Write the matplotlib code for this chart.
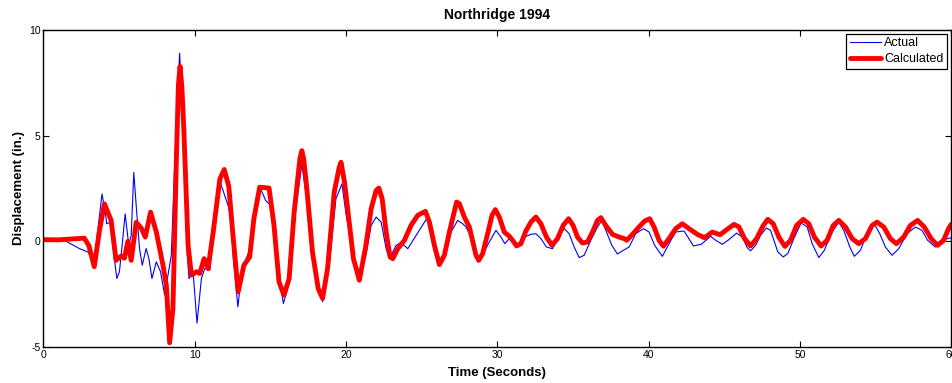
import matplotlib
matplotlib.use("Agg")
import matplotlib.pyplot as plt

plt.rcParams['font.family'] = ['Liberation Sans', 'DejaVu Sans']
plt.rcParams['axes.unicode_minus'] = False

actual_t = [0, 0.8, 1.5, 2.37, 2.92, 3.36, 3.63, 3.87, 4.09, 4.18, 4.42, 4.58, 4.85, 5.02, 5.2, 5.4,
            5.64, 5.8, 5.97, 6.13, 6.35, 6.53, 6.79, 6.97, 7.17, 7.46, 7.74, 8.01, 8.23, 8.45, 8.67,
            9.0, 9.27, 9.49, 9.62, 9.89, 10.15, 10.44, 10.66, 11.0, 11.28, 11.72, 12.2, 12.4, 12.55,
            12.85, 13.14, 13.58, 13.91, 14.36, 14.69, 15.02, 15.57, 15.86, 16.24, 16.68, 17.08, 17.45,
            18.0, 18.45, 18.89, 19.33, 19.73, 20.01, 20.45, 20.66, 20.99, 21.3, 21.66, 21.99, 22.32,
            22.65, 22.87, 23.31, 23.64, 24.08, 24.63, 25.33, 25.62, 25.95, 26.17, 26.57, 26.94, 27.38,
            27.71, 27.93, 28.26, 28.59, 28.81, 29.07, 29.47, 29.91, 30.24, 30.5, 30.79, 31.12, 31.41,
            31.78, 32.22, 32.55, 32.88, 33.25, 33.65, 34.09, 34.42, 34.75, 35.08, 35.41, 35.74, 36.18,
            36.62, 36.91, 37.17, 37.57, 37.94, 38.27, 38.71, 39.15, 39.66, 40.03, 40.4, 40.91, 41.35,
            41.79, 42.34, 42.6, 42.96, 43.48, 44.1, 44.43, 44.87, 45.31, 45.82, 46.19, 46.52, 46.74,
            47.07, 47.4, 47.78, 48.06, 48.28, 48.54, 48.9, 49.2, 49.6, 50.08, 50.48, 50.81, 51.25,
            51.62, 52.06, 52.57, 52.9, 53.3, 53.6, 54.0, 54.44, 54.88, 55.28, 55.65, 56.09, 56.53,
            57.08, 57.63, 58.07, 58.44, 58.95, 59.39, 59.72, 60.0]
actual_d = [0.08, 0.1, 0.0, -0.34, -0.5, -0.9, 0.75, 2.24, 1.38, 0.83, 0.91, -0.19, -1.76, -1.44, -0.19, 1.3,
            -0.19, 0.28, 3.26, 1.69, -0.34, -1.13, -0.34, -0.82, -1.76, -0.97, -1.44, -2.54, -1.6, -0.66, 3.57,
            8.9, 5.3, -0.5, -1.76, -1.44, -3.87, -1.76, -1.29, -1.36, 0.75, 2.72, 1.7, 1.2, -0.8,
            -3.1, -1.29, -0.5, 0.75, 2.48, 1.93, 1.7, -1.76, -2.94, -1.92, 1.54, 3.66, 1.7,
            -1.45, -2.86, -1.13, 2.01, 2.72, 1.23, -0.5, -1.29, -1.37, -0.7, 0.75, 1.15, 0.91,
            -0.35, -0.82, -0.19, -0.06, -0.35, 0.28, 1.07, 0.76, -0.35, -1.16, -0.66, 0.44, 0.99,
            0.83, 0.68, 0.2, -0.66, -0.9, -0.58, -0.03, 0.52, 0.2, -0.11, 0.13, -0.08, -0.11,
            0.2, 0.33, 0.36, 0.13, -0.27, -0.35, 0.28, 0.6, 0.36, -0.27, -0.77, -0.66, 0.05,
            0.68, 0.99, 0.52, -0.19, -0.6, -0.45, -0.27, 0.36, 0.6, 0.44, -0.19, -0.71, -0.11,
            0.44, 0.49, 0.2, -0.22, -0.14, 0.24, 0.05, -0.14, 0.08, 0.39, 0.2, -0.3, -0.45,
            -0.19, 0.28, 0.63, 0.52, 0.05, -0.5, -0.74, -0.58, 0.13, 0.87, 0.68, -0.11, -0.77,
            -0.42, 0.36, 0.91, 0.52, -0.27, -0.71, -0.42, 0.36, 0.87, 0.36, -0.27, -0.66, -0.35,
            0.36, 0.68, 0.52, 0.05, -0.27, -0.11, 0.13, 0.16]

# Calculated displacement
calc_t = [0, 1, 2, 2.7, 3.0, 3.36, 3.7, 4.03, 4.47, 4.8, 5.13, 5.35, 5.58, 5.8, 6.13, 6.46, 6.73, 7.08,
          7.46, 7.9, 8.12, 8.34, 8.56, 8.78, 8.92, 9.03, 9.15, 9.27, 9.56, 9.78, 10.11, 10.33, 10.62, 10.88,
          11.22, 11.66, 11.95, 12.25, 12.5, 12.87, 13.25, 13.63, 13.91, 14.29, 14.91, 15.24, 15.57, 15.9,
          16.24, 16.57, 16.95, 17.08, 17.2, 17.39, 17.78, 18.16, 18.45, 18.78, 19.22, 19.55, 19.67, 19.9,
          20.23, 20.49, 20.88, 21.3, 21.66, 21.99, 22.17, 22.39, 22.65, 22.91, 23.09, 23.42, 23.86, 24.3,
          24.74, 25.25, 25.51, 25.84, 26.17, 26.5, 26.83, 27.31, 27.49, 27.82, 28.15, 28.41, 28.59, 28.77,
          29.03, 29.36, 29.65, 29.87, 30.13, 30.46, 30.79, 31.01, 31.27, 31.56, 31.89, 32.22, 32.55, 32.88,
          33.25, 33.61, 33.98, 34.35, 34.71, 35.01, 35.3, 35.63, 35.96, 36.29, 36.62, 36.84, 37.17, 37.61,
          38.05, 38.38, 38.56, 38.93, 39.37, 39.74, 40.07, 40.36, 40.69, 40.98, 41.35, 41.79, 42.23, 42.67,
          43.22, 43.7, 44.21, 44.72, 45.16, 45.64, 45.97, 46.34, 46.74, 47.14, 47.58, 47.88, 48.24, 48.61,
          49.01, 49.38, 49.78, 50.22, 50.59, 50.96, 51.4, 51.8, 52.2, 52.57, 53.01, 53.45, 53.89, 54.33,
          54.77, 55.1, 55.54, 55.98, 56.38, 56.86, 57.3, 57.78, 58.22, 58.67, 59.1, 59.5, 59.83, 60.0]
calc_d = [0.08, 0.07, 0.12, 0.15, -0.2, -1.2, 0.5, 1.77, 1.0, -0.9, -0.7, -0.8, 0.0, -0.9, 0.9, 0.63, 0.2, 1.38,
          0.44, -1.13, -2.07, -4.8, -3.17, 3.73, 7.4, 8.28, 7.3, 5.45, -0.19, -1.6, -1.44, -1.52, -0.82, -1.29,
          0.44, 2.95, 3.4, 2.6, 0.5, -2.39, -1.13, -0.74, 1.07, 2.56, 2.52, 0.75, -1.92, -2.55,
          -1.76, 1.38, 3.9, 4.29, 3.9, 2.64, -0.5, -2.23, -2.7, -1.29, 2.33, 3.5, 3.74, 2.8,
          0.75, -0.82, -1.84, -0.25, 1.54, 2.41, 2.52, 2.01, 0.44, -0.74, -0.82, -0.35, 0.05, 0.76,
          1.23, 1.42, 0.91, -0.19, -1.1, -0.66, 0.44, 1.86, 1.78, 1.15, 0.68, -0.11, -0.66, -0.9,
          -0.58, 0.36, 1.23, 1.5, 1.15, 0.44, 0.24, 0.05, -0.22, -0.11, 0.49, 0.91, 1.15, 0.83,
          0.2, -0.19, 0.13, 0.75, 1.07, 0.75, 0.2, -0.08, -0.03, 0.44, 0.99, 1.12, 0.75, 0.33,
          0.2, 0.13, 0.05, 0.33, 0.68, 0.96, 1.07, 0.68, 0.05, -0.23, 0.13, 0.6, 0.83, 0.6,
          0.33, 0.17, 0.44, 0.31, 0.55, 0.8, 0.68, 0.13, -0.22, 0.13, 0.75, 1.04, 0.83, 0.2,
          -0.24, 0.05, 0.75, 1.04, 0.83, 0.2, -0.22, 0.05, 0.75, 0.99, 0.68, 0.13, -0.11, 0.13,
          0.75, 0.91, 0.68, 0.13, -0.11, 0.2, 0.75, 0.99, 0.68, 0.13, -0.19, 0.05, 0.6, 0.8]

x_ticks = [0, 10, 20, 30, 40, 50, 60]
y_ticks = [-5, 0, 5, 10]

fig = plt.figure(figsize=(9.53, 3.83), dpi=100)
ax = fig.add_axes([0.0456, 0.094, 0.9525, 0.8277])

ax.plot(actual_t, actual_d, color='#0000ff', linewidth=0.8, label='Actual')
ax.plot(calc_t, calc_d, color='#ff0000', linewidth=3.5, label='Calculated',
        solid_joinstyle='round', solid_capstyle='round')

ax.set_xlim(0, 60)
ax.set_ylim(-5, 10)
ax.set_xticks(x_ticks)
ax.set_yticks(y_ticks)
ax.tick_params(direction='in', top=True, right=True, length=4, width=0.8, labelsize=7.5, pad=2)
for s in ax.spines.values():
    s.set_linewidth(1.0)

ax.set_title("Northridge 1994", fontsize=10, fontweight='bold', pad=8)
ax.set_xlabel("Time (Seconds)", fontsize=9.5, fontweight='bold', labelpad=5)
ax.set_ylabel("Displacement (in.)", fontsize=9.5, fontweight='bold', labelpad=3)

leg = ax.legend(loc='upper right', fontsize=9, fancybox=False, edgecolor='black', framealpha=1,
                borderpad=0.3, labelspacing=0.3, handlelength=2.5, handletextpad=0.25, borderaxespad=0.3)
leg.get_frame().set_linewidth(0.9)

fig.savefig("out.png", dpi=100)
